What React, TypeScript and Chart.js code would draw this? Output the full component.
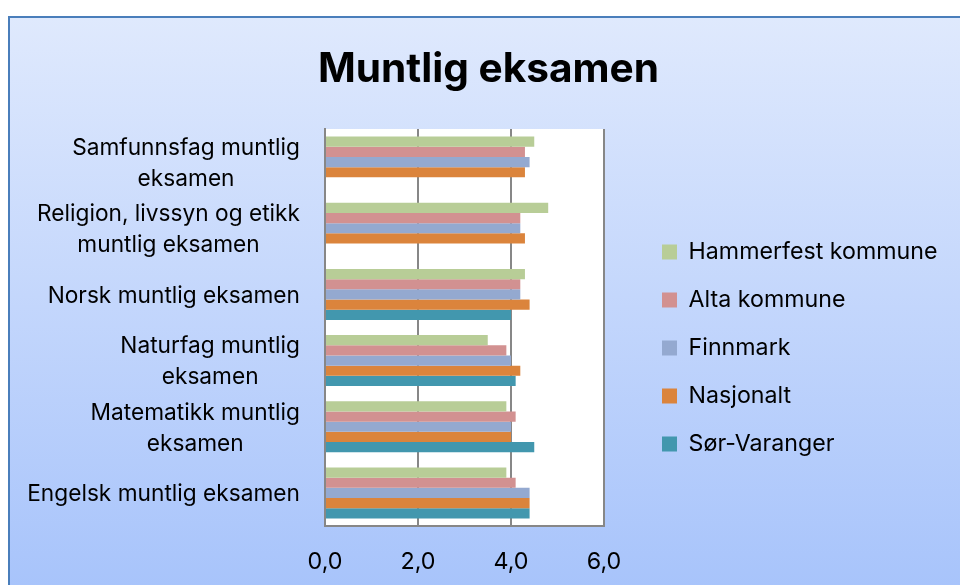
import React, { useEffect, useRef } from "react";
import { Chart, registerables } from "chart.js";

Chart.register(...registerables);

const categories: string[][] = [
  ["Samfunnsfag muntlig", "eksamen"],
  ["Religion, livssyn og etikk", "muntlig eksamen"],
  ["Norsk muntlig eksamen"],
  ["Naturfag muntlig", "eksamen"],
  ["Matematikk muntlig", "eksamen"],
  ["Engelsk muntlig eksamen"],
];

const seriesNames = ["Hammerfest kommune", "Alta kommune", "Finnmark", "Nasjonalt", "Sør-Varanger"];
const hammerfest = [4.5, 4.8, 4.3, 3.5, 3.9, 3.9];
const alta = [4.3, 4.2, 4.2, 3.9, 4.1, 4.1];
const finnmark = [4.4, 4.2, 4.2, 4.0, 4.0, 4.4];
const nasjonalt = [4.3, 4.3, 4.4, 4.2, 4.0, 4.4];
const sorVaranger = [null, null, 4.0, 4.1, 4.5, 4.4];
const seriesColors = ["#b8cd97", "#d29191", "#94a9d0", "#db843c", "#4297ae"];
const xMin = 0;
const xMax = 6;
const xStep = 2;

const FONT = "Inter";
const W = 950;
const H = 660;

function fitSize(m: CanvasRenderingContext2D, text: string, weight: string, target: number) {
  m.font = `${weight} 100px ${FONT}`;
  return Math.round((1000 * target) / m.measureText(text).width) / 10;
}

export default function App() {
  const ref = useRef<HTMLCanvasElement | null>(null);

  useEffect(() => {
    if (!ref.current) return;
    const m = document.createElement("canvas").getContext("2d")!;
    const labelSize = fitSize(m, "Engelsk muntlig eksamen", "normal", 273);
    const legendSize = fitSize(m, "Hammerfest kommune", "normal", 249);
    const titleSize = fitSize(m, "Muntlig eksamen", "bold", 341);
    const tickSize = fitSize(m, "0,0", "normal", 35);

    m.font = `normal ${legendSize}px ${FONT}`;
    const widest = Math.max(...seriesNames.map((s) => m.measureText(s).width));
    const legendPad = 48 - legendSize;
    const legendW = legendPad + 15 + legendSize / 2 + widest + 10;
    const gap = 652 - legendPad - 594;
    const padRight = W - 594 - gap - legendW;
    const padLeft = Math.max(0, 7 + padRight);

    const plotBgPlugin = {
      id: "plotBg",
      beforeDraw(chart: any) {
        const { ctx, chartArea } = chart;
        ctx.save();
        ctx.fillStyle = "#ffffff";
        ctx.fillRect(chartArea.left, chartArea.top, chartArea.right - chartArea.left, chartArea.bottom - chartArea.top);
        ctx.restore();
      },
    };

    const yLabelPlugin = {
      id: "yLabels",
      afterDraw(chart: any) {
        const { ctx, chartArea } = chart;
        const yScale = chart.scales.y;
        ctx.save();
        ctx.font = `normal ${labelSize}px ${FONT}`;
        ctx.fillStyle = "#000000";
        ctx.textAlign = "center";
        ctx.textBaseline = "middle";
        const right = chartArea.left - 25;
        (chart.data.labels as any[]).forEach((lab, i) => {
          const lines: string[] = Array.isArray(lab) ? lab : [lab];
          const w = Math.max(...lines.map((l) => ctx.measureText(l).width));
          const cx = right - w / 2;
          const cy = yScale.getPixelForValue(i) + 1.5;
          lines.forEach((l, j) => ctx.fillText(l, cx, cy + (j - (lines.length - 1) / 2) * 31));
        });
        ctx.restore();
      },
    };

    const values = [hammerfest, alta, finnmark, nasjonalt, sorVaranger];
    const chart = new Chart(ref.current, {
      type: "bar",
      data: {
        labels: categories,
        datasets: seriesNames.map((name, i) => ({
          label: name,
          data: values[i],
          backgroundColor: seriesColors[i],
          borderWidth: 0,
          barPercentage: 1,
          categoryPercentage: 0.77,
        })),
      },
      options: {
        indexAxis: "y",
        responsive: false,
        animation: false,
        devicePixelRatio: 1,
        layout: { padding: { left: padLeft, right: padRight, top: 0, bottom: 0 } },
        plugins: {
          tooltip: { enabled: false },
          title: {
            display: true,
            text: "Muntlig eksamen",
            color: "#000000",
            font: { family: FONT, size: titleSize, weight: "bold" },
            padding: { top: 52 - titleSize * 0.6, bottom: 111 - 52 - titleSize * 0.6 },
          },
          legend: {
            display: true,
            position: "right",
            align: "center",
            maxWidth: 500,
            labels: {
              boxWidth: 15,
              boxHeight: 15,
              padding: legendPad,
              color: "#000000",
              font: { family: FONT, size: legendSize },
            },
          },
        },
        scales: {
          x: {
            type: "linear",
            position: "bottom",
            min: xMin,
            max: xMax,
            ticks: {
              stepSize: xStep,
              color: "#000000",
              padding: 22,
              font: { family: FONT, size: tickSize },
              callback: (v: any) => Number(v).toFixed(1).replace(".", ","),
            },
            grid: { color: "#878787", lineWidth: 2, drawTicks: false },
            border: { color: "#878787", width: 2 },
            afterFit: (s: any) => {
              s.height = H - 508;
            },
          },
          y: {
            type: "category",
            position: "left",
            ticks: { display: false },
            grid: { display: false },
            border: { color: "#878787", width: 2 },
            afterFit: (s: any) => {
              s.width = 315 - padLeft;
            },
          },
          gap: {
            type: "linear",
            axis: "y",
            position: "right",
            display: true,
            ticks: { display: false },
            grid: { display: false },
            border: { display: false },
            afterFit: (s: any) => {
              s.width = gap;
            },
          },
        },
      },
      plugins: [plotBgPlugin, yLabelPlugin],
    } as any);
    return () => chart.destroy();
  }, []);

  return (
    <div
      style={{
        position: "fixed",
        left: 8,
        top: 16,
        right: 0,
        bottom: 0,
        borderLeft: "2px solid #4a7ebb",
        borderTop: "2px solid #4a7ebb",
        background: "linear-gradient(#dfe9fd, #a8c4fb)",
        overflow: "hidden",
      }}
    >
      <canvas ref={ref} width={W} height={H} style={{ display: "block" }} />
    </div>
  );
}
